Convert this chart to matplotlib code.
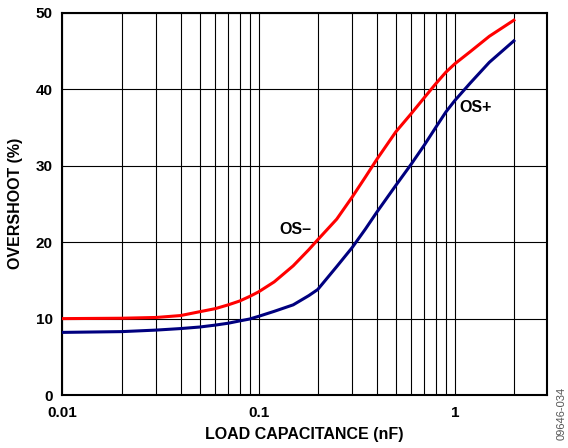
import matplotlib
matplotlib.use("Agg")
import matplotlib.pyplot as plt
from matplotlib.ticker import FixedLocator, NullFormatter

# values
cap_nf = [0.01, 0.02, 0.03, 0.04, 0.05, 0.06, 0.07, 0.08, 0.09, 0.1, 0.12, 0.15,
          0.18, 0.2, 0.25, 0.3, 0.35, 0.4, 0.5, 0.6, 0.7, 0.8, 0.9, 1.0, 1.2, 1.5, 2.0]
os_minus = [10.0, 10.05, 10.15, 10.4, 10.9, 11.3, 11.8, 12.3, 12.9, 13.5, 14.8, 16.9,
            19.0, 20.3, 23.0, 25.9, 28.5, 30.8, 34.4, 36.8, 38.9, 40.7, 42.2, 43.3, 44.9, 46.9, 49.0]
os_plus = [8.2, 8.3, 8.5, 8.7, 8.9, 9.15, 9.4, 9.7, 9.95, 10.3, 10.95, 11.8,
           13.0, 13.8, 16.8, 19.3, 21.7, 23.9, 27.4, 30.2, 32.7, 35.0, 37.0, 38.5, 40.8, 43.5, 46.3]

y_ticks = [0, 10, 20, 30, 40, 50]
x_ticks = [0.01, 0.1, 1]
x_tick_labels = ["0.01", "0.1", "1"]

plt.rcParams['font.family'] = ['Liberation Sans', 'DejaVu Sans']

fig = plt.figure(figsize=(5.68, 4.48), dpi=100)
ax = fig.add_axes([0.110, 0.118, 0.853, 0.854])

ax.plot(cap_nf, os_minus, color='#ff0000', lw=2.2, zorder=3, solid_joinstyle='round')
ax.plot(cap_nf, os_plus, color='#00007f', lw=2.2, zorder=3, solid_joinstyle='round')

ax.set_xscale('log')
ax.set_xlim(0.01, 2.95)
ax.set_ylim(0, 50)

ax.xaxis.set_major_locator(FixedLocator(x_ticks))
ax.set_xticklabels(x_tick_labels)
minor = [m * d for d in (0.01, 0.1, 1) for m in range(2, 10) if m * d < 2.95]
ax.xaxis.set_minor_locator(FixedLocator(minor))
ax.xaxis.set_minor_formatter(NullFormatter())
ax.set_yticks(y_ticks)

ax.grid(True, which='both', axis='x', color='black', lw=0.8)
ax.grid(True, which='major', axis='y', color='black', lw=0.8)
ax.tick_params(which='both', length=0, labelsize=11)
ax.tick_params(axis='x', pad=8)
ax.tick_params(axis='y', pad=7)
for lab in ax.get_xticklabels() + ax.get_yticklabels():
    lab.set_fontweight('bold')
for s in ax.spines.values():
    s.set_linewidth(1.5)

ax.set_xlabel("LOAD CAPACITANCE (nF)", fontsize=11.5, fontweight='bold', labelpad=5)
ax.set_ylabel("OVERSHOOT (%)", fontsize=11.5, fontweight='bold', labelpad=9)

ax.text(0.154, 21.7, "OS\u2013", fontsize=11.5, fontweight='bold', ha='center', va='center')
ax.text(1.27, 37.6, "OS+", fontsize=11.5, fontweight='bold', ha='center', va='center')

fig.text(0.988, 0.018, "09646-034", rotation=90, fontsize=8, color='#555555',
         ha='center', va='bottom')

fig.savefig("out.png", dpi=100)
